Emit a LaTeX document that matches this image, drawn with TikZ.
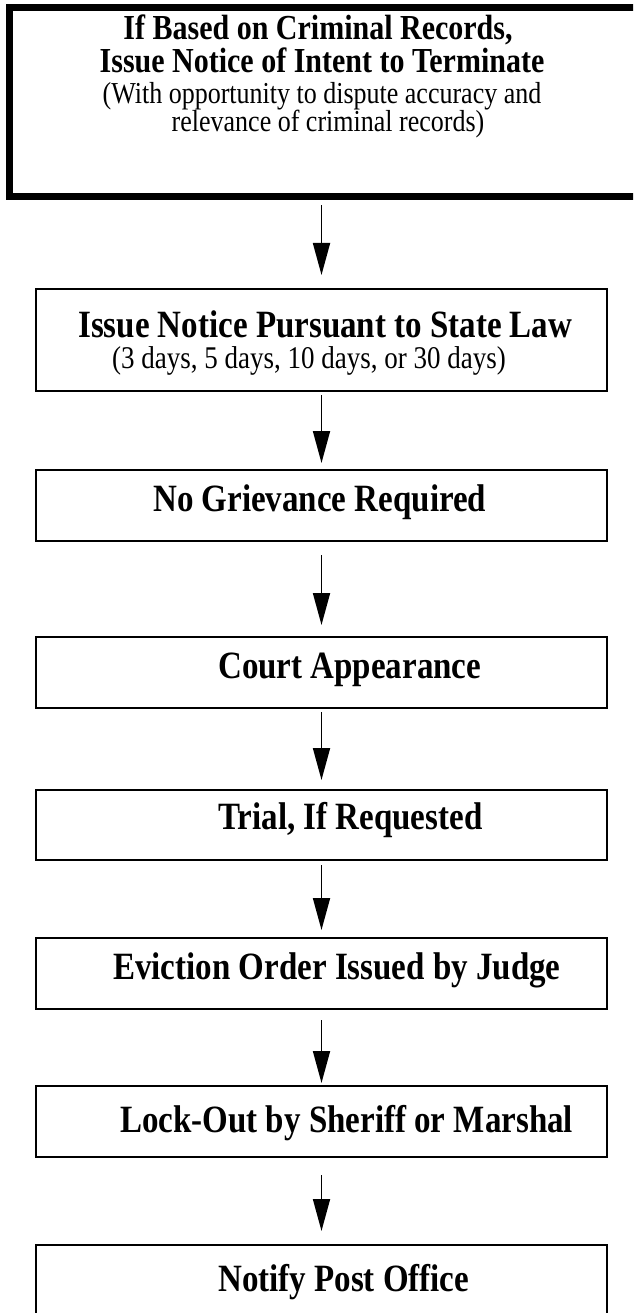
\documentclass[tikz,border=0pt]{standalone}
\usepackage{fontspec}
\usepackage{graphicx}
\setmainfont{Liberation Serif}
\usetikzlibrary{arrows.meta}
\newcommand{\talltext}[1]{\scalebox{1}[1.17]{#1}}
\begin{document}
\begin{tikzpicture}[x=1pt,y=-1pt,
  box/.style={draw, line width=2pt, rectangle, inner sep=0pt, outer sep=0pt},
  thickbox/.style={draw, line width=7pt, rectangle, inner sep=0pt, outer sep=0pt},
  arr/.style={line width=1.8pt, -{Triangle[width=17pt,length=32pt]}},
  hd/.style={font=\fontsize{33}{36}\selectfont\bfseries, anchor=base west, inner sep=0pt},
  hdtop/.style={font=\fontsize{30}{34}\selectfont\bfseries, anchor=base, inner sep=0pt},
  subtop/.style={font=\fontsize{26}{28}\selectfont, anchor=base, inner sep=0pt},
  sub/.style={font=\fontsize{27}{30}\selectfont, anchor=base west, inner sep=0pt}]
\path[use as bounding box] (0,0) rectangle (633,1313);
\clip (0,0) rectangle (633,1313);
\node[thickbox, minimum width=651pt, minimum height=189pt] (b1) at (334.5,102.5) {};
\node[box, minimum width=571pt, minimum height=102pt] (b2) at (321.5,340) {};
\node[box, minimum width=571pt, minimum height=71pt] (b3) at (321.5,505.5) {};
\node[box, minimum width=571pt, minimum height=71pt] (b4) at (321.5,672.5) {};
\node[box, minimum width=571pt, minimum height=70pt] (b5) at (321.5,825) {};
\node[box, minimum width=571pt, minimum height=71pt] (b6) at (321.5,973.5) {};
\node[box, minimum width=571pt, minimum height=71pt] (b7) at (321.5,1121.5) {};
\node[box, minimum width=571pt, minimum height=95pt] (b8) at (321.5,1292.5) {};
% texts
\node[hdtop] (t1a) at (318,40) {\talltext{If Based on Criminal Records,}};
\node[hdtop] (t1b) at (322,73) {\talltext{Issue Notice of Intent to Terminate}};
\node[subtop] (t1c) at (322,104) {\talltext{(With opportunity to dispute accuracy and}};
\node[subtop] (t1d) at (328,132) {\talltext{relevance of criminal records)}};
\node[hd] (t2a) at (78,337) {\talltext{Issue Notice Pursuant to State Law}};
\node[sub] (t2b) at (112,368) {\talltext{(3 days, 5 days, 10 days, or 30 days)}};
\node[hd] (t3) at (153,511) {\talltext{No Grievance Required}};
\node[hd] (t4) at (218,678) {\talltext{Court Appearance}};
\node[hd] (t5) at (218,829) {\talltext{Trial, If Requested}};
\node[hd] (t6) at (113,979) {\talltext{Eviction Order Issued by Judge}};
\node[hd] (t7) at (120,1132) {\talltext{Lock-Out by Sheriff or Marshal}};
\node[hd] (t8) at (218,1291) {\talltext{Notify Post Office}};
% arrows
\draw[arr, shorten <=8.5pt, shorten >=14pt] (b2.north |- b1.south) -- (b2.north);
\draw[arr, shorten <=4pt, shorten >=7pt] (b2.south) -- (b3.north);
\draw[arr, shorten <=14pt, shorten >=12pt] (b3.south) -- (b4.north);
\draw[arr, shorten <=4pt, shorten >=10pt] (b4.south) -- (b5.north);
\draw[arr, shorten <=5pt, shorten >=8pt] (b5.south) -- (b6.north);
\draw[arr, shorten <=11pt, shorten >=3pt] (b6.south) -- (b7.north);
\draw[arr, shorten <=18pt, shorten >=14pt] (b7.south) -- (b8.north);
\end{tikzpicture}
\end{document}
